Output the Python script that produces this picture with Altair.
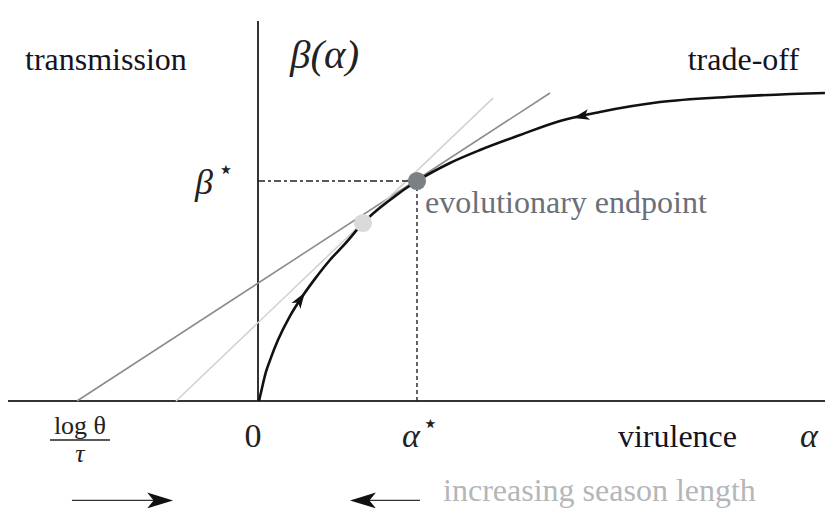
import altair as alt
import pandas as pd

# ---- data (units: alpha* = 1, beta* = 1) ----
curve_alpha = [0.0, 0.019, 0.044, 0.070, 0.120, 0.196, 0.259, 0.354, 0.449, 0.544,
               0.658, 0.829, 1.0, 1.209, 1.399, 1.652, 1.905, 2.158, 2.538, 2.962, 3.582]
curve_beta = [0.0, 0.059, 0.132, 0.186, 0.277, 0.386, 0.459, 0.555, 0.641, 0.714,
              0.809, 0.914, 1.0, 1.082, 1.141, 1.209, 1.273, 1.314, 1.359, 1.382, 1.400]

tan_dark_alpha = [-1.152, 1.842]
tan_dark_beta = [0.0, 1.400]
tan_light_alpha = [-0.525, 1.481]
tan_light_beta = [0.0, 1.377]

endpoint_alpha = [1.0]
endpoint_beta = [1.0]
prev_alpha = [0.658]
prev_beta = [0.809]

# arrowheads on the curve (position, heading in degrees)
curve_arrow_alpha = [0.259, 2.044]
curve_arrow_beta = [0.459, 1.295]
curve_arrow_angle = [34, 257]

# season-length arrows below the axis
season_y = -0.452
season_line_alpha = [[-1.184, -0.66], [0.68, 1.019]]
season_head_alpha = [-0.635, 0.667]
season_head_angle = [90, 270]

# domains
x_dom = [-1.5886, 3.5823]
y_dom = [-0.48636, 1.78636]

W, H = 817, 500
SERIF = "Liberation Serif"

xs = alt.Scale(domain=x_dom, nice=False, zero=False)
ys = alt.Scale(domain=y_dom, nice=False, zero=False)


def X(f="a"):
    return alt.X(f"{f}:Q", scale=xs, axis=None)


def Y(f="b"):
    return alt.Y(f"{f}:Q", scale=ys, axis=None)


layers = []

# axes
axes_df = pd.DataFrame({"a": [x_dom[0], -0.0063], "a2": [x_dom[1], -0.0063],
                        "b": [0.0, 0.0], "b2": [0.0, 1.727]})
layers.append(alt.Chart(axes_df).mark_rule(color="#333333", strokeWidth=2).encode(
    x=X(), x2="a2:Q", y=Y(), y2="b2:Q"))

# tangent lines
td = pd.DataFrame({"a": tan_dark_alpha, "b": tan_dark_beta})
layers.append(alt.Chart(td).mark_line(color="#8c8c8c", strokeWidth=1.6).encode(x=X(), y=Y()))
tl = pd.DataFrame({"a": tan_light_alpha, "b": tan_light_beta})
layers.append(alt.Chart(tl).mark_line(color="#d2d2d2", strokeWidth=1.6).encode(x=X(), y=Y()))

# dashed guides
dh = pd.DataFrame({"a": [-0.0063], "a2": endpoint_alpha, "b": endpoint_beta})
layers.append(alt.Chart(dh).mark_rule(color="#222222", strokeWidth=1.4, strokeDash=[7, 3, 3, 3]).encode(
    x=X(), x2="a2:Q", y=Y()))
dv = pd.DataFrame({"a": endpoint_alpha, "b": [0.0], "b2": endpoint_beta})
layers.append(alt.Chart(dv).mark_rule(color="#222222", strokeWidth=1.4, strokeDash=[4, 3]).encode(
    x=X(), y=Y(), y2="b2:Q"))

# trade-off curve
cd = pd.DataFrame({"a": curve_alpha, "b": curve_beta})
layers.append(alt.Chart(cd).mark_line(color="#111111", strokeWidth=2.6, interpolate="monotone").encode(
    x=X(), y=Y()))

ARROW = "M0,-1L0.6,0.8L0,0.35L-0.6,0.8Z"
ca = pd.DataFrame({"a": curve_arrow_alpha, "b": curve_arrow_beta, "ang": curve_arrow_angle})
layers.append(alt.Chart(ca).mark_point(shape=ARROW, filled=True, color="#111111", size=320, opacity=1).encode(
    x=X(), y=Y(), angle=alt.Angle("ang:Q", scale=None)))

# points
layers.append(alt.Chart(pd.DataFrame({"a": prev_alpha, "b": prev_beta})).mark_circle(
    color="#d9dadb", size=330, opacity=1).encode(x=X(), y=Y()))
layers.append(alt.Chart(pd.DataFrame({"a": endpoint_alpha, "b": endpoint_beta})).mark_circle(
    color="#7c7f83", size=330, opacity=1).encode(x=X(), y=Y()))

# season-length arrows
sl = pd.DataFrame({"a": [s[0] for s in season_line_alpha], "a2": [s[1] for s in season_line_alpha],
                   "b": [season_y, season_y]})
layers.append(alt.Chart(sl).mark_rule(color="#333333", strokeWidth=1.3).encode(x=X(), x2="a2:Q", y=Y()))
sh = pd.DataFrame({"a": season_head_alpha, "b": [season_y, season_y], "ang": season_head_angle})
layers.append(alt.Chart(sh).mark_point(shape="M0,-1L0.55,0.8L0,0.35L-0.55,0.8Z", filled=True,
                                       color="#111111", size=830, opacity=1).encode(
    x=X(), y=Y(), angle=alt.Angle("ang:Q", scale=None)))

# fraction bar for log(theta)/tau
fb = pd.DataFrame({"a": [-1.323], "a2": [-0.943], "b": [-0.177]})
layers.append(alt.Chart(fb).mark_rule(color="#222222", strokeWidth=1.6).encode(x=X(), x2="a2:Q", y=Y()))

# ---- text labels ----
label_text = ["transmission", "trade-off", "virulence", "evolutionary endpoint",
              "increasing season length", "0", "log θ"]
label_alpha = [-1.481, 3.418, 2.272, 1.051, 1.165, -0.038, -1.133]
label_beta = [1.5045, 1.5045, -0.209, 0.8545, -0.455, -0.209, -0.150]
label_align = ["left", "right", "left", "left", "left", "center", "center"]
label_size = [32, 32, 32, 32, 32, 34, 26]
label_color = ["#141420", "#141420", "#141420", "#6b6f78", "#b4b6ba", "#222222", "#222222"]

for t, a, b, al, s, c in zip(label_text, label_alpha, label_beta, label_align, label_size, label_color):
    df = pd.DataFrame({"a": [a], "b": [b], "t": [t]})
    layers.append(alt.Chart(df).mark_text(align=al, baseline="alphabetic", font=SERIF, fontSize=s,
                                          color=c).encode(x=X(), y=Y(), text="t:N"))

# math labels (italic)
math_text = ["β(α)", "β", "α", "α", "τ"]
math_alpha = [0.196, -0.405, 0.905, 3.424, -1.133]
math_beta = [1.5136, 0.99, -0.209, -0.209, -0.277]
math_align = ["left", "left", "left", "left", "center"]
math_size = [41, 36, 34, 34, 26]
for t, a, b, al, s in zip(math_text, math_alpha, math_beta, math_align, math_size):
    df = pd.DataFrame({"a": [a], "b": [b], "t": [t]})
    layers.append(alt.Chart(df).mark_text(align=al, baseline="middle" if t == "β" else "alphabetic",
                                          font=SERIF, fontSize=s, fontStyle="italic",
                                          color="#222222").encode(x=X(), y=Y(), text="t:N"))

# stars
star_alpha = [-0.21, 1.085]
star_beta = [1.05, -0.105]
sd = pd.DataFrame({"a": star_alpha, "b": star_beta, "t": ["⋆", "⋆"]})
layers.append(alt.Chart(sd).mark_text(align="center", baseline="middle", font="DejaVu Sans", fontSize=26,
                                      color="#222222").encode(x=X(), y=Y(), text="t:N"))

chart = alt.layer(*layers).properties(
    width=W, height=H, padding=0, autosize=alt.AutoSizeParams(type="none")
).configure_view(stroke=None)

chart.save("out.html", embed_options={"renderer": "svg", "actions": False})
